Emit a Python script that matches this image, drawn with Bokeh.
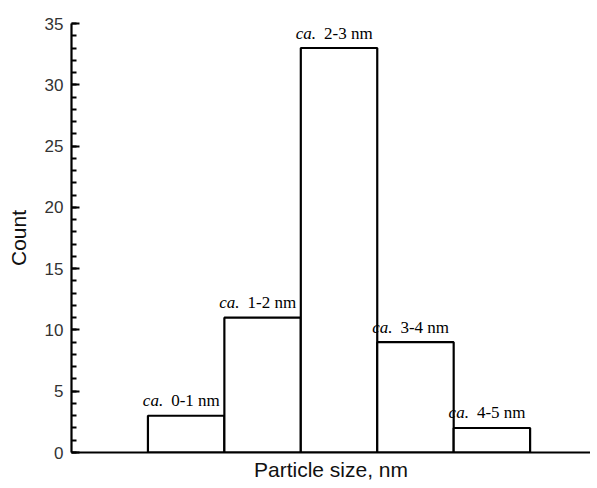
from bokeh.plotting import figure
from bokeh.models import Range1d, SingleIntervalTicker, FixedTicker, ColumnDataSource
from bokeh.core.properties import value
from bokeh.embed import file_html
from bokeh.resources import INLINE

# data
bin_left = [0, 1, 2, 3, 4]
bin_right = [1, 2, 3, 4, 5]
counts = [3, 11, 33, 9, 2]
range_labels = ["0-1 nm", "1-2 nm", "2-3 nm", "3-4 nm", "4-5 nm"]
prefix = ["ca.", "ca.", "ca.", "ca.", "ca."]

centers = [(a + b) / 2 for a, b in zip(bin_left, bin_right)]
src = ColumnDataSource(dict(left=bin_left, right=bin_right, top=counts,
                            bottom=[0] * len(counts), center=centers,
                            lab=range_labels, pre=prefix))

p = figure(width=590, height=483, output_backend="svg", toolbar_location=None,
           x_range=Range1d(-1, 5.79), y_range=Range1d(0, 35),
           min_border_left=71, min_border_right=0, min_border_top=23,
           min_border_bottom=30)
p.outline_line_color = None
p.grid.visible = False
p.background_fill_color = "white"
p.border_fill_color = "white"

p.quad(left="left", right="right", bottom="bottom", top="top", source=src,
       fill_color="white", line_color="black", line_width=2.2)

p.text(x="center", y="top", text="pre", source=src, text_align="right",
       text_baseline="alphabetic", x_offset=-23, y_offset=-15,
       text_font=value("Liberation Serif"), text_font_style="italic",
       text_font_size="17px", text_color="black")
p.text(x="center", y="top", text="lab", source=src, text_align="left",
       text_baseline="alphabetic", x_offset=-15, y_offset=-15,
       text_font=value("Liberation Serif"),
       text_font_size="17px", text_color="black")

# y axis
ya = p.yaxis[0]
ya.ticker = SingleIntervalTicker(interval=5, num_minor_ticks=5)
ya.axis_label = "Count"
ya.axis_label_text_font = "Liberation Sans"
ya.axis_label_text_font_size = "21px"
ya.axis_label_text_font_style = "normal"
ya.axis_label_text_color = "#111"
ya.axis_label_standoff = 12
ya.major_label_text_font = "Liberation Sans"
ya.major_label_text_font_size = "17px"
ya.major_label_text_color = "#333"
ya.major_label_standoff = 8
ya.axis_line_width = 2.2
ya.axis_line_color = "black"
ya.major_tick_in = 8
ya.major_tick_out = 0
ya.minor_tick_in = 5
ya.minor_tick_out = 0
ya.major_tick_line_width = 2
ya.minor_tick_line_width = 2

# x axis
xa = p.xaxis[0]
xa.ticker = FixedTicker(ticks=[])
xa.axis_label = "Particle size, nm"
xa.axis_label_text_font = "Liberation Sans"
xa.axis_label_text_font_size = "21px"
xa.axis_label_text_font_style = "normal"
xa.axis_label_text_color = "#111"
xa.axis_label_standoff = 5
xa.major_label_standoff = 0
xa.axis_line_width = 2.2
xa.axis_line_color = "black"
xa.major_tick_in = 0
xa.major_tick_out = 0
xa.minor_tick_in = 0
xa.minor_tick_out = 0

open("out.html", "w").write(file_html(p, INLINE))
